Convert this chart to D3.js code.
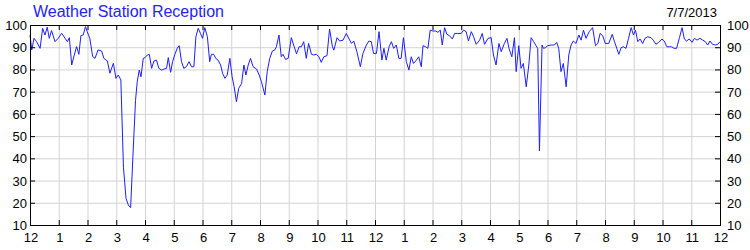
<!DOCTYPE html>
<html>
<head>
  <meta charset="utf-8" />
  <title>Weather Station Reception</title>
  <script src="https://d3js.org/d3.v7.min.js"></script>
  <style>
    body { margin: 0; background: #fff; }
    svg { display: block; font-family: "Liberation Sans", Arial, sans-serif; }
  </style>
</head>
<body>
<div id="chart"></div>
<script>
  // chart text
  const chartTitle = "Weather Station Reception";
  const chartDate = "7/7/2013";

  // x axis: hour labels, midnight to midnight
  const hourLabels = ["12","1","2","3","4","5","6","7","8","9","10","11",
                      "12","1","2","3","4","5","6","7","8","9","10","11","12"];
  // y axis ticks
  const yTicks = [10, 20, 30, 40, 50, 60, 70, 80, 90, 100];

  // readings (hours since midnight)
  const hours = [
    0.00,0.06,0.14,0.23,0.35,0.44,0.52,0.60,0.67,0.75,0.87,0.98,
    1.10,1.22,1.30,1.37,1.45,1.54,1.62,1.70,1.77,1.85,1.93,1.99,
    2.08,2.18,2.26,2.37,2.49,2.57,2.69,2.78,2.90,2.99,3.07,3.16,
    3.25,3.34,3.42,3.50,3.58,3.67,3.73,3.80,3.86,3.94,4.00,4.08,
    4.15,4.23,4.31,4.40,4.48,4.58,4.66,4.75,4.81,4.89,4.96,5.04,
    5.12,5.19,5.27,5.35,5.44,5.53,5.62,5.70,5.77,5.85,5.93,6.00,
    6.08,6.17,6.25,6.31,6.39,6.46,6.54,6.63,6.70,6.78,6.86,6.95,
    7.03,7.10,7.18,7.26,7.36,7.44,7.51,7.59,7.67,7.76,7.88,7.97,
    8.05,8.17,8.25,8.34,8.43,8.51,8.57,8.66,8.74,8.80,8.89,8.98,
    9.09,9.17,9.27,9.36,9.44,9.52,9.61,9.69,9.79,9.87,9.96,10.05,
    10.13,10.22,10.33,10.42,10.52,10.57,10.68,10.77,10.89,11.00,11.10,11.18,
    11.26,11.37,11.49,11.58,11.70,11.79,11.87,11.95,12.05,12.14,12.24,12.31,
    12.39,12.49,12.57,12.65,12.74,12.83,12.91,12.99,13.09,13.18,13.26,13.34,
    13.44,13.52,13.61,13.67,13.76,13.84,13.92,14.01,14.11,14.19,14.27,14.34,
    14.42,14.50,14.59,14.69,14.77,14.88,15.00,15.08,15.17,15.25,15.35,15.43,
    15.52,15.64,15.73,15.81,15.93,16.04,16.12,16.21,16.31,16.39,16.50,16.59,
    16.66,16.76,16.85,16.91,17.00,17.08,17.16,17.26,17.35,17.43,17.52,17.60,
    17.66,17.72,17.81,17.86,17.93,18.01,18.13,18.24,18.32,18.39,18.47,18.55,
    18.65,18.74,18.82,18.90,18.99,19.09,19.17,19.25,19.34,19.45,19.57,19.67,
    19.75,19.83,19.92,20.01,20.13,20.25,20.33,20.41,20.48,20.56,20.64,20.73,
    20.82,20.91,20.99,21.06,21.14,21.22,21.31,21.39,21.48,21.60,21.68,21.77,
    21.87,21.98,22.06,22.15,22.24,22.32,22.40,22.49,22.59,22.68,22.76,22.84,
    22.93,23.03,23.11,23.20,23.30,23.40,23.49,23.57,23.65,23.74,23.84,23.92,
    24.00
  ];
  // reception percent for each reading
  const reception = [
    95.5,88.8,94,92.5,89.5,98.5,95.5,99,94,97.5,92.5,94,
    96.3,94,92.5,94.3,82,86.5,90.3,86.8,95.2,95.5,99.3,97,
    94,85.8,85,88.8,88.3,85,83.8,78.3,82.8,76,77.5,75.3,
    36,22,19,17.8,41,66,74.5,79.7,76.7,85,85.3,86.5,
    86.8,80.5,83.8,84.2,80.5,79.7,80.2,80.5,85.3,78.7,83.5,86.8,
    89.5,90.7,83.5,80.5,81.2,83.5,81.2,81.2,94.7,98.5,96.2,94,
    98.8,94.7,83.5,86.8,86.8,85,84.2,82,78.2,76,77.5,85,
    76.7,72.2,65.5,71.5,73.7,82,77.5,82,85,81.2,80.2,77.5,
    74.5,68.5,79,85,88.3,88.7,90.2,95.5,85.7,86.8,84.5,85,
    94.3,91,87,90.2,90.2,92.5,85,91.7,86.8,86.5,86.8,85.7,
    83.2,85.7,86.2,98.2,90.2,88.7,94.3,92.8,93.2,96.2,93.7,91.7,
    92.8,88,81.2,87.2,91,92.8,92.5,87.2,87.2,97,84.2,89.5,
    84.2,90.2,92.5,89.5,91,85,85,94.3,83.5,79.7,85.7,82.7,
    84.2,85.7,81.2,90.7,90.2,89.5,97.7,97.3,97.3,96.7,97.7,91,
    98.8,95.8,95.2,93.7,96.2,96.2,96.2,97.7,97,92.8,97,94.7,
    91.3,93.2,96.2,91.3,94,94.3,86.5,82,91.7,88,91.7,94,
    89.5,85.7,94.3,79,90.7,80.5,82.7,72.2,82,94.3,92.5,90.7,
    89.5,43.4,91,89.5,89.8,90.7,91,91,92.2,89.5,79,82.7,
    72.2,86.5,91,92.8,91.7,95.5,93.2,97.7,94,97,98.8,90.7,
    91.7,96.2,95.2,91.7,91.7,95.8,92.5,89.5,86.8,89.8,90.2,89.5,
    94,98.8,95.5,97.7,92.5,93.7,91.7,94,94.7,94.3,93.2,91.3,
    92.2,93.7,92.8,90.2,90.2,90.2,89.5,89.5,94.3,98.8,93.7,92.8,
    93.7,92.2,94,93.2,94,93.2,92.5,91,92.8,91.3,91,91.3,
    92.5
  ];

  const width = 750, height = 250;
  const margin = { top: 25, right: 30, bottom: 25, left: 30 };

  const svg = d3.select("#chart").append("svg")
    .attr("width", width)
    .attr("height", height);

  const x = d3.scaleLinear().domain([0, 24]).range([margin.left, width - margin.right]);
  const y = d3.scaleLinear().domain([10, 100]).range([height - margin.bottom, margin.top]);

  const hourTicks = d3.range(0, 25);

  // grid lines
  svg.append("g")
    .attr("transform", `translate(0,${height - margin.bottom})`)
    .call(d3.axisBottom(x).tickValues(hourTicks).tickSize(-(height - margin.top - margin.bottom)).tickFormat(""))
    .call(g => g.select(".domain").remove())
    .call(g => g.selectAll("line").attr("stroke", "#d3d3d3"));

  svg.append("g")
    .attr("transform", `translate(${margin.left},0)`)
    .call(d3.axisLeft(y).tickValues(yTicks).tickSize(-(width - margin.left - margin.right)).tickFormat(""))
    .call(g => g.select(".domain").remove())
    .call(g => g.selectAll("line").attr("stroke", "#d3d3d3"));

  // the reception line
  const line = d3.line()
    .x((d, i) => x(hours[i]))
    .y(d => y(d));

  svg.append("path")
    .datum(reception)
    .attr("fill", "none")
    .attr("stroke", "#1e1eff")
    .attr("stroke-width", 1)
    .attr("stroke-linejoin", "round")
    .attr("d", line);

  // axes, ticks pointing inward
  const fontSize = "13px";
  svg.append("g")
    .attr("transform", `translate(0,${height - margin.bottom})`)
    .call(d3.axisTop(x).tickValues(hourTicks).tickSize(5).tickFormat(""))
    .call(g => g.select(".domain").remove());

  svg.append("g")
    .attr("transform", `translate(0,${margin.top})`)
    .call(d3.axisBottom(x).tickValues(hourTicks).tickSize(5).tickFormat(""))
    .call(g => g.select(".domain").remove());

  svg.append("g")
    .attr("transform", `translate(${margin.left},0)`)
    .call(d3.axisRight(y).tickValues(yTicks).tickSize(5).tickFormat(""))
    .call(g => g.select(".domain").remove());

  svg.append("g")
    .attr("transform", `translate(${width - margin.right},0)`)
    .call(d3.axisLeft(y).tickValues(yTicks).tickSize(5).tickFormat(""))
    .call(g => g.select(".domain").remove());

  // frame
  svg.append("rect")
    .attr("x", margin.left + 0.5)
    .attr("y", margin.top + 0.5)
    .attr("width", width - margin.left - margin.right)
    .attr("height", height - margin.top - margin.bottom)
    .attr("fill", "none")
    .attr("stroke", "#000");

  // tick labels
  svg.append("g").selectAll("text")
    .data(hourLabels)
    .join("text")
    .attr("x", (d, i) => x(hourTicks[i]) + 1)
    .attr("y", height - margin.bottom + 17)
    .attr("text-anchor", "middle")
    .attr("font-size", fontSize)
    .attr("fill", "#000")
    .text(d => d);

  svg.append("g").selectAll("text")
    .data(yTicks)
    .join("text")
    .attr("x", margin.left - 3)
    .attr("y", d => y(d) + 5)
    .attr("text-anchor", "end")
    .attr("font-size", fontSize)
    .attr("fill", "#000")
    .text(d => d);

  svg.append("g").selectAll("text")
    .data(yTicks)
    .join("text")
    .attr("x", width - margin.right + 7)
    .attr("y", d => y(d) + 5)
    .attr("text-anchor", "start")
    .attr("font-size", fontSize)
    .attr("fill", "#000")
    .text(d => d);

  // title and date
  svg.append("text")
    .attr("x", margin.left + 3)
    .attr("y", 17)
    .attr("font-size", "16px")
    .attr("fill", "#2424f0")
    .text(chartTitle);

  svg.append("text")
    .attr("x", width - margin.right - 3)
    .attr("y", 17)
    .attr("text-anchor", "end")
    .attr("font-size", "13px")
    .attr("fill", "#000")
    .text(chartDate);
</script>
</body>
</html>
